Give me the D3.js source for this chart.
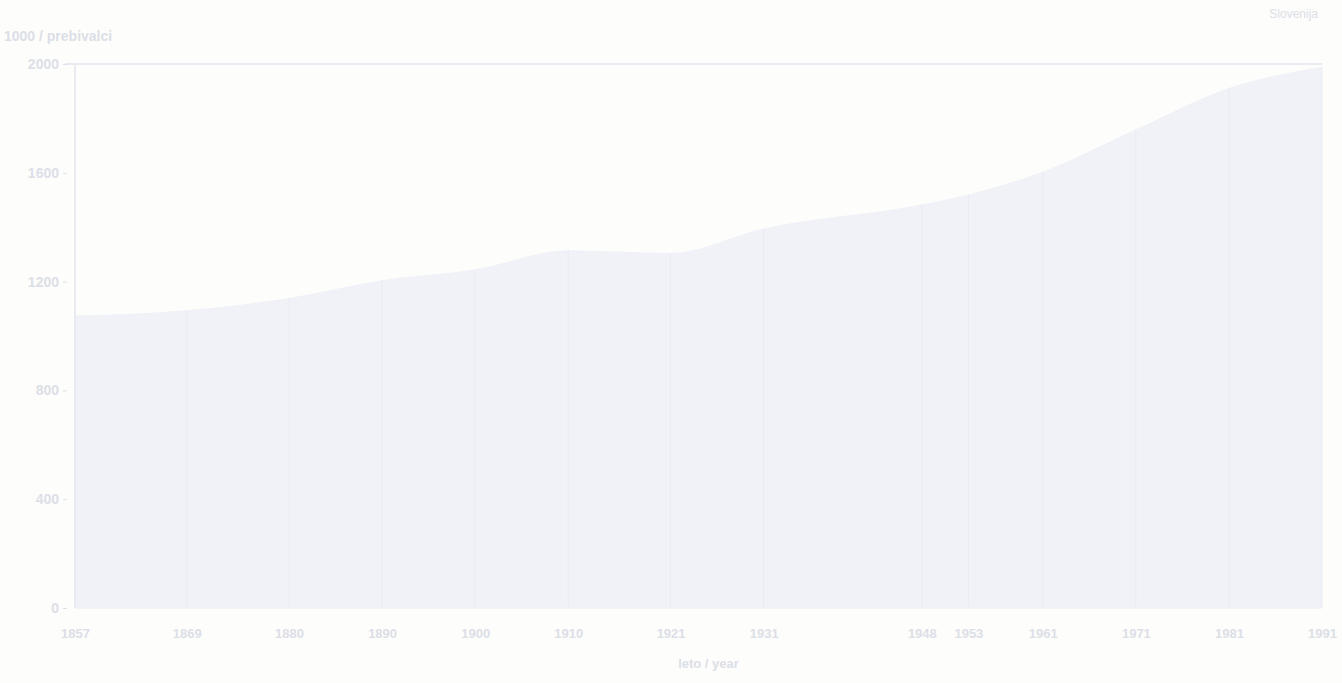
<!DOCTYPE html>
<html><head><meta charset="utf-8">
<script src="https://cdn.jsdelivr.net/npm/d3@7"></script>
<style>
html,body{margin:0;padding:0;background:#fdfdfb;}
svg{display:block;}
text{font-family:"Liberation Sans","DejaVu Sans",sans-serif;}
</style></head>
<body>
<svg id="c" width="1342" height="683"></svg>
<script>
const years = [1857, 1869, 1880, 1890, 1900, 1910, 1921, 1931, 1948, 1953, 1961, 1971, 1981, 1991];
const population = [1075, 1095, 1140, 1205, 1245, 1315, 1305, 1395, 1483, 1520, 1604, 1760, 1912, 1990];
const yTicks = [0, 400, 800, 1200, 1600, 2000];
const yLabel = "1000 / prebivalci";
const xLabel = "leto / year";
const cornerNote = "Slovenija";

const svg = d3.select("#c");
const m = {left: 75, right: 1322, top: 64, bottom: 608};
const x = d3.scaleLinear().domain([1857, 1991]).range([m.left, m.right]);
const y = d3.scaleLinear().domain([0, 2000]).range([m.bottom, m.top]);

const textCol = "#dcdfe7";
const lineCol = "#e9ebf1";

// area
svg.append("path").datum(years.map((d,i)=>({yr:d, v:population[i]})))
  .attr("d", d3.area().x(d=>x(d.yr)).y0(y(0)).y1(d=>y(d.v)).curve(d3.curveMonotoneX))
  .attr("fill", "#f0f2f8");

// vertical gridlines at census years
svg.append("g").selectAll("line").data(years).join("line")
  .attr("x1", d=>x(d)).attr("x2", d=>x(d))
  .attr("y1", y(0)).attr("y2", (d,i)=>y(population[i]))
  .attr("stroke", "#e8ebf3").attr("stroke-width", 1);

// frame lines: top and left
svg.append("line").attr("x1", m.left-10).attr("x2", m.right).attr("y1", y(2000)).attr("y2", y(2000))
  .attr("stroke", lineCol).attr("stroke-width", 2);
svg.append("line").attr("x1", m.left).attr("x2", m.left).attr("y1", y(2000)).attr("y2", y(0))
  .attr("stroke", lineCol).attr("stroke-width", 2);
svg.append("line").attr("x1", m.left).attr("x2", m.right).attr("y1", y(0)).attr("y2", y(0))
  .attr("stroke", "#eceef3").attr("stroke-width", 1);

// y axis
const ya = svg.append("g").attr("transform", `translate(${m.left-8},0)`)
  .call(d3.axisLeft(y).tickValues(yTicks).tickSize(4).tickPadding(4).tickFormat(d3.format("d")));
ya.select(".domain").remove();
ya.selectAll("line").attr("stroke", textCol);
ya.selectAll("text").attr("fill", textCol).attr("font-size", 14).attr("font-weight", "bold");

// x axis
const xa = svg.append("g").attr("transform", `translate(0,${y(0)+18})`)
  .call(d3.axisBottom(x).tickValues(years).tickSize(0).tickFormat(d3.format("d")));
xa.select(".domain").remove();
xa.selectAll("text").attr("fill", textCol).attr("font-size", 13).attr("font-weight", "bold");

// titles
svg.append("text").attr("x", 4).attr("y", 41).text(yLabel)
  .attr("fill", textCol).attr("font-size", 14).attr("font-weight", "bold");
svg.append("text").attr("x", (m.left+m.right)/2 + 10).attr("y", 668).attr("text-anchor", "middle")
  .text(xLabel).attr("fill", textCol).attr("font-size", 13).attr("font-weight", "bold");
svg.append("text").attr("x", 1318).attr("y", 18).attr("text-anchor", "end")
  .text(cornerNote).attr("fill", textCol).attr("font-size", 12);
</script>
</body></html>
